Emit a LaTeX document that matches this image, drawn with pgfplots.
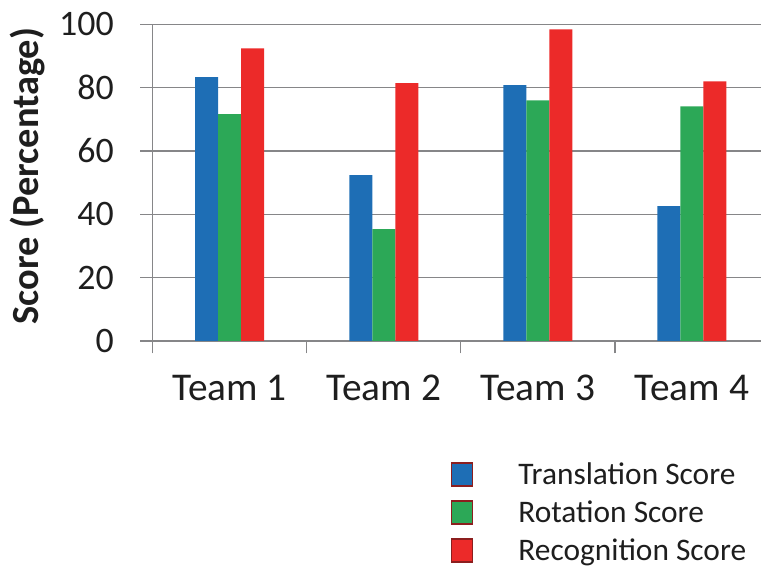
\documentclass[border=0pt]{standalone}
\usepackage{pgfplots}
\pgfplotsset{compat=1.18}
\usepackage{fontspec}
\setmainfont{Carlito}
\definecolor{cblue}{RGB}{30,110,181}
\definecolor{cgreen}{RGB}{44,168,87}
\definecolor{cred}{RGB}{236,42,41}
\definecolor{gridgray}{RGB}{134,134,136}
\definecolor{txt}{RGB}{30,30,30}
\definecolor{legred}{RGB}{140,30,30}
\pgfplotstableread{
x trans rot recog
0 83.3 71.6 92.4
1 52.4 35.3 81.4
2 80.8 76.0 98.4
3 42.6 74.1 82.0
}\scores
\begin{document}
\begin{tikzpicture}[x=1bp,y=1bp]
\path[use as bounding box] (0,0) rectangle (761,567);
\begin{axis}[
  at={(152.7bp,226bp)}, anchor=south west,
  scale only axis, width=608.3bp, height=316.7bp,
  xmin=-0.5, xmax=3.449, ymin=0, ymax=100,
  axis x line*=bottom, axis y line*=left,
  axis line style={draw=gridgray, line width=1.4bp},
  ytick={0,20,...,100}, ymajorgrids,
  grid style={draw=gridgray, line width=1.4bp},
  xtick={0,1,2,3}, xticklabels={Team 1,Team 2,Team 3,Team 4},
  minor xtick={-0.5,0.5,1.5,2.5},
  major x tick style={draw=none},
  minor x tick style={draw=gridgray, line width=1.4bp},
  ytick style={draw=gridgray, line width=1.4bp},
  tick align=outside, major tick length=12.5bp, minor tick length=12.5bp,
  tick label style={text=txt},
  yticklabel style={font=\fontsize{36}{40}\selectfont, xshift=-23bp},
  xticklabel style={font=\fontsize{39.5}{44}\selectfont, yshift=-18bp},
  /pgf/number format/assume math mode=true,
  ybar=0pt, bar width=23bp,
  legend style={draw=none, fill=none, at={(0.489,-0.382)}, anchor=north west,
    font=\fontsize{31.5}{32}\selectfont, text=txt, row sep=8.5bp, inner sep=0pt,
    nodes={text height=22bp, text depth=7.5bp, inner sep=0pt}},
  legend cell align=left,
  legend image code/.code={\draw[#1, draw=legred, line width=1.6bp] (1bp,-9bp) rectangle (22bp,14bp); \path[draw=none, fill=none] (0bp,0bp) -- (68bp,0bp);},
]
\addplot[fill=cblue, draw=none] table[x=x, y=trans] {\scores};
\addplot[fill=cgreen, draw=none] table[x=x, y=rot] {\scores};
\addplot[fill=cred, draw=none] table[x=x, y=recog] {\scores};
\legend{Translation Score, Rotation Score, Recognition Score}
\end{axis}
\node[rotate=90, font=\bfseries\fontsize{38.5}{42}\selectfont, text=txt] at (28,391) {Score (Percentage)};
\end{tikzpicture}
\end{document}
